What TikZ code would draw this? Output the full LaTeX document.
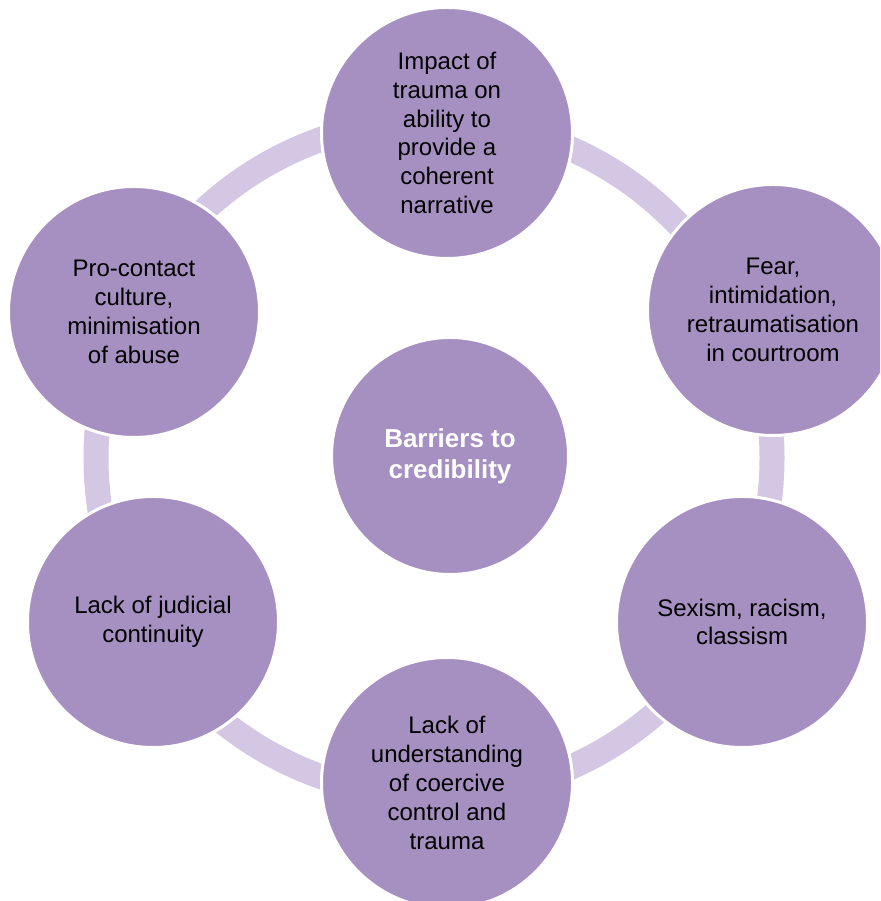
\documentclass[tikz,border=0pt]{standalone}
\usepackage{fontspec}
\setmainfont{Liberation Sans}
\definecolor{nodefill}{HTML}{A68FC1}
\definecolor{ringcol}{HTML}{D3C7E3}
\begin{document}
\begin{tikzpicture}[x=1pt,y=1pt,
  item/.style={circle, fill=nodefill, draw=white, line width=3pt,
    minimum size=251pt, inner sep=0pt, align=center,
    font=\fontsize{24pt}{28.8pt}\selectfont, text=black},
  hub/.style={item, minimum size=237pt,
    font=\bfseries\fontsize{26pt}{31.2pt}\selectfont, text=white},
  ringline/.style={draw=ringcol, line width=25pt}]
\useasboundingbox (0,0) rectangle (880,901);
\clip (0,0) rectangle (880,901);
\coordinate (ringc) at (434,443);
\draw[ringline] (ringc) circle[radius=338];
\node[item] (top) at (447,768) {Impact of\\trauma on\\ability to\\provide a\\coherent\\narrative};
\node[item] (ur) at (773,591) {Fear,\\intimidation,\\retraumatisation\\in courtroom};
\node[item] (lr) at (742,279) {Sexism, racism,\\classism};
\node[item] (bot) at (447,118) {Lack of\\understanding\\of coercive\\control and\\trauma};
\node[item] (ll) at (153,279) {Lack of judicial\\continuity};
\node[item] (ul) at (134,589) {Pro-contact\\culture,\\minimisation\\of abuse};
\node[hub] (hub) at (450,445) {Barriers to\\credibility};
\end{tikzpicture}
\end{document}
